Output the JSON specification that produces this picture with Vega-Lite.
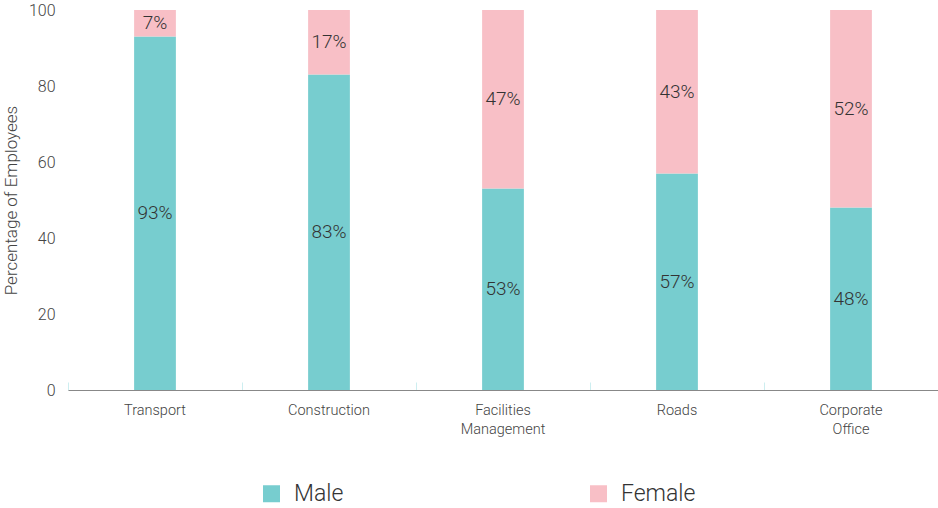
{
  "$schema": "https://vega.github.io/schema/vega-lite/v6.json",
  "width": 870,
  "height": 380,
  "autosize": {"type": "none"},
  "padding": {"left": 68, "top": 10, "right": 0, "bottom": 118},
  "background": "white",
  "config": {
    "view": {"stroke": null},
    "font": "Roboto",
    "axis": {"labelFont": "Roboto", "titleFont": "Roboto", "labelFontWeight": 300, "titleFontWeight": 300, "labelColor": "#444", "titleColor": "#444", "grid": false},
    "legend": {"labelFont": "Roboto", "labelFontWeight": 300}
  },
  "data": {
    "values": [
      {"division": "Transport", "gender": "Male", "value": 93, "label": "93%"},
      {"division": "Transport", "gender": "Female", "value": 7, "label": "7%"},
      {"division": "Construction", "gender": "Male", "value": 83, "label": "83%"},
      {"division": "Construction", "gender": "Female", "value": 17, "label": "17%"},
      {"division": "Facilities Management", "gender": "Male", "value": 53, "label": "53%"},
      {"division": "Facilities Management", "gender": "Female", "value": 47, "label": "47%"},
      {"division": "Roads", "gender": "Male", "value": 57, "label": "57%"},
      {"division": "Roads", "gender": "Female", "value": 43, "label": "43%"},
      {"division": "Corporate Office", "gender": "Male", "value": 48, "label": "48%"},
      {"division": "Corporate Office", "gender": "Female", "value": 52, "label": "52%"}
    ]
  },
  "encoding": {
    "x": {
      "field": "division",
      "type": "nominal",
      "sort": null,
      "scale": {"paddingInner": 0, "paddingOuter": 0},
      "axis": {
        "title": null,
        "labelAngle": 0,
        "labelFontSize": 14.5,
        "labelExpr": "split(datum.label, ' ')",
        "labelLineHeight": 19,
        "labelPadding": 21,
        "domainColor": "#888",
        "tickColor": "#cdeef0",
        "tickSize": -8,
        "bandPosition": 0
      }
    },
    "y": {
      "field": "value",
      "type": "quantitative",
      "stack": "zero",
      "scale": {"domain": [0, 100]},
      "axis": {
        "title": "Percentage of Employees",
        "titleFontSize": 17,
        "titlePadding": 8,
        "values": [0, 20, 40, 60, 80, 100],
        "labelFontSize": 16,
        "labelPadding": 13,
        "ticks": false,
        "domain": false
      }
    },
    "order": {"field": "gender", "sort": "descending"}
  },
  "layer": [
    {
      "mark": {"type": "bar", "width": {"band": 0.24}},
      "encoding": {
        "color": {
          "field": "gender",
          "type": "nominal",
          "scale": {"domain": ["Male", "Female"], "range": ["#77cdcf", "#f8bfc6"]},
          "legend": {
            "title": null,
            "orient": "none",
            "direction": "horizontal",
            "legendX": 192,
            "legendY": 472,
            "symbolType": "square",
            "symbolSize": 289,
            "symbolStrokeWidth": 0,
            "labelFontSize": 23,
            "labelColor": "#333",
            "labelOffset": 11,
            "columnPadding": 243
          }
        }
      }
    },
    {
      "mark": {"type": "text", "fontSize": 19, "fontWeight": 300, "color": "#333"},
      "encoding": {
        "y": {"field": "value", "type": "quantitative", "stack": "zero", "bandPosition": 0.5},
        "text": {"field": "label"}
      }
    }
  ]
}
